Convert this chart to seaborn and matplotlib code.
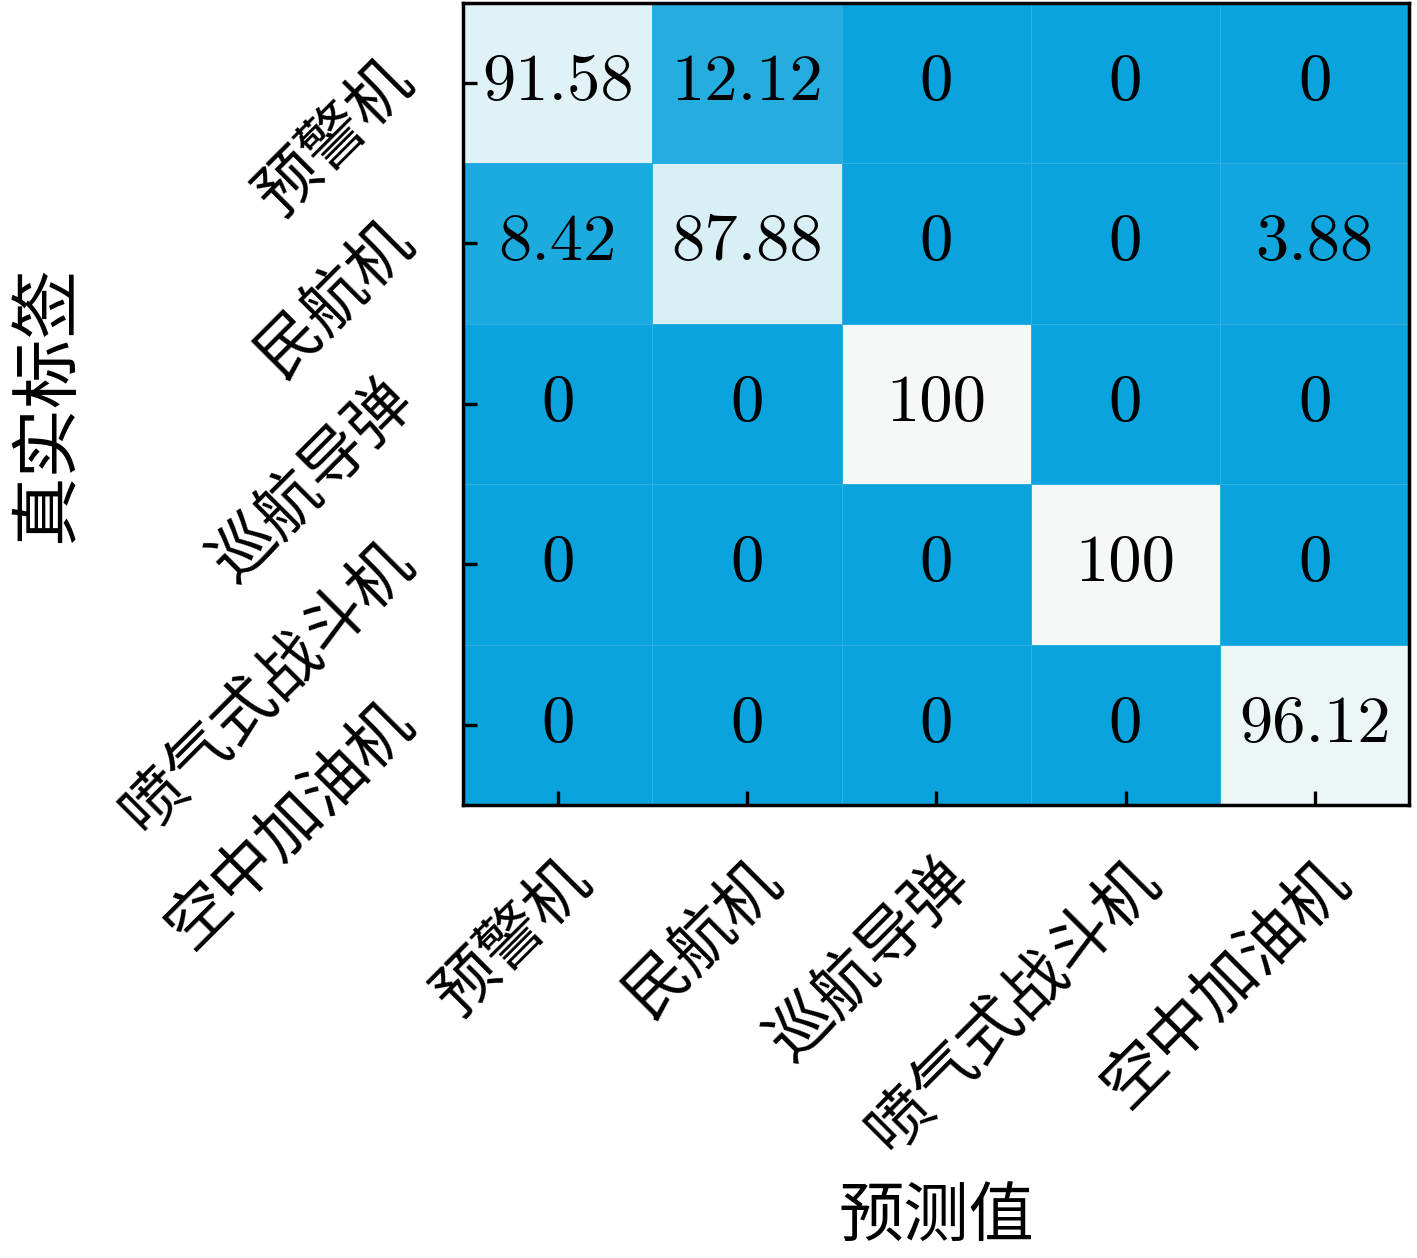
import numpy as np
import pandas as pd
import seaborn as sns
import matplotlib
matplotlib.use("Agg")
import matplotlib.pyplot as plt
from matplotlib.colors import LinearSegmentedColormap

# 类别与混淆矩阵 (百分比), 行: 真实标签, 列: 预测值
classes = ['预警机', '民航机', '巡航导弹', '喷气式战斗机', '空中加油机']
row_yujing = [91.58, 12.12, 0, 0, 0]
row_minhang = [8.42, 87.88, 0, 0, 3.88]
row_daodan = [0, 0, 100, 0, 0]
row_zhandou = [0, 0, 0, 100, 0]
row_jiayou = [0, 0, 0, 0, 96.12]

cm = pd.DataFrame([row_yujing, row_minhang, row_daodan, row_zhandou, row_jiayou],
                  index=classes, columns=classes)

sns.set_style('white')
plt.rcParams['font.family'] = ['Noto Sans CJK SC', 'DejaVu Sans']
plt.rcParams['axes.unicode_minus'] = False
plt.rcParams['text.color'] = 'black'
plt.rcParams['axes.labelcolor'] = 'black'
plt.rcParams['xtick.color'] = 'black'
plt.rcParams['ytick.color'] = 'black'

cmap = LinearSegmentedColormap.from_list('blue_white', ['#0aa3dd', '#f4f9f8'])

fig = plt.figure(figsize=(14.17, 12.58), dpi=100)
ax = fig.add_axes([0.3267, 0.360, 0.668, 0.638])
sns.heatmap(cm, ax=ax, cmap=cmap, vmin=0, vmax=100, cbar=False,
            annot=True, fmt='g', linewidths=0.6, linecolor='#2eaee2',
            annot_kws={'family': 'cmr10', 'size': 48, 'color': 'black'})
ax.set_axisbelow(False)

for sp in ax.spines.values():
    sp.set_visible(True)
    sp.set_color('black')
    sp.set_linewidth(2.5)
    sp.set_zorder(3)

ax.tick_params(axis='both', direction='in', length=10, width=2.4, color='black',
               labelcolor='black', bottom=True, left=True, labelsize=46)
ax.tick_params(axis='y', pad=34)
ax.tick_params(axis='x', pad=30)
plt.setp(ax.get_yticklabels(), rotation=45, ha='right', va='baseline',
         rotation_mode='anchor')
plt.setp(ax.get_xticklabels(), rotation=45, ha='right', va='top',
         rotation_mode='anchor')

ax.set_ylabel('真实标签', fontsize=50, labelpad=18)
ax.set_xlabel('预测值', fontsize=47, labelpad=14)

fig.savefig('out.png', dpi=100)
